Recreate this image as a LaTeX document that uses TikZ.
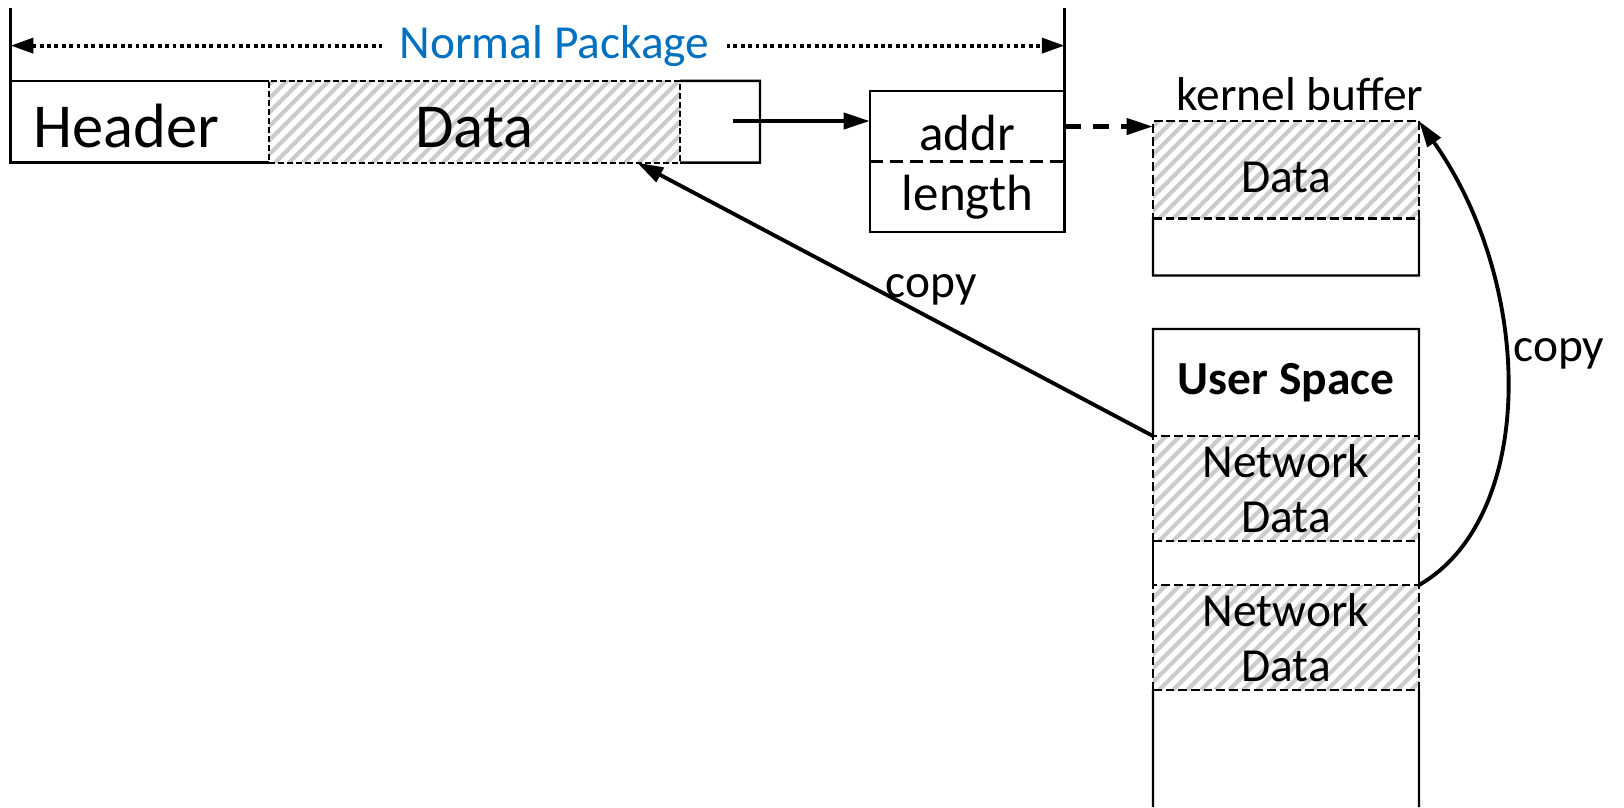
\documentclass[tikz,border=0pt]{standalone}
\usepackage{fontspec}
\setmainfont{Carlito}
\usetikzlibrary{arrows.meta, positioning}
\definecolor{npblue}{HTML}{0070C0}
\definecolor{hatchgray}{HTML}{CCCCCC}
\newcommand{\bigsz}{\fontsize{17.8}{21}\selectfont}
\newcommand{\midsz}{\fontsize{14.5}{17}\selectfont}
\tikzset{
  region/.style={draw, anchor=north west, inner sep=0pt, outer sep=0pt, align=center,
    dash pattern=on 2.5pt off 1.1pt,
    path picture={
      \foreach \k in {0,...,45}
        \draw[solid, line width=1.2pt, hatchgray]
          (path picture bounding box.south west) ++(\k*0.14-1.2,0) -- ++(1.3,1.3);
    }},
  frame/.style={draw, anchor=north west, inner sep=0pt, outer sep=0pt},
  arr/.style={line width=1.1pt, -{Triangle[length=7.5pt, width=4.5pt]}},
  dimarr/.style={line width=1.2pt, dash pattern=on 1.1pt off 1pt,
    {Triangle[length=6.5pt, width=4.2pt]}-{Triangle[length=6.5pt, width=4.2pt]}},
}

\begin{document}
\begin{tikzpicture}[line width=0.7pt, font=\fontsize{13.5}{15.5}\selectfont]
  \useasboundingbox (0,0) rectangle (16.24,-8.07);

  % normal package
  \coordinate (pktNW) at (0.105,-0.808);
  \coordinate (pktSE) at (7.60,-1.626);
  \node[region, line width=0.55pt, dash pattern=on 1.7pt off 0.85pt,
    minimum width=4.11cm, minimum height=0.818cm, font=\bigsz,
    text height=14.5pt, text depth=0pt] (pdata) at (2.69,-0.808) {Data};
  \draw (pdata.north west) -- (pktNW) |- (pdata.south west);
  \draw (pdata.north east) -| (pktSE) -- (pdata.south east);
  \node[font=\bigsz] (hdr) at (1.265,-1.262) {Header};

  % addr / length
  \node[frame, minimum width=1.947cm, minimum height=1.41cm] (desc) at (8.70,-0.91) {};
  \draw[dash pattern=on 3.7pt off 2pt] (desc.west) -- (desc.east);
  \node[font=\midsz] (addr) at (9.674,-1.33) {addr};
  \node[font=\midsz] (len) at (9.674,-1.97) {length};
  \coordinate (pktout) at (7.33,-1.21);
  \draw[arr, line width=1.3pt] (pktout) -- (pktout -| desc.west);

  % width of the package
  \coordinate (dimL) at (0.105,-0.083);
  \coordinate (dimR) at (10.647,-0.083);
  \draw (dimL) -- (pktNW);
  \draw (dimR) -- (desc.north east);
  \coordinate (npL) at (0.105,-0.456);
  \coordinate (npR) at (10.647,-0.456);
  \draw[dimarr] (npL) -- node[pos=0.516, fill=white, text=npblue, inner xsep=5pt] (nplabel) {Normal Package} (npR);

  % kernel buffer
  \node[region, minimum width=2.66cm, minimum height=0.975cm,
    text height=12.7pt, text depth=0pt] (kdata) at (11.53,-1.21) {Data};
  \coordinate (kbot) at (14.19,-2.755);
  \draw (kdata.south west) |- (kbot) -- (kdata.south east);
  \node[above=2.5pt of kdata.north, xshift=0.14cm, inner sep=0pt] (kbuf) {kernel buffer};
  \coordinate (aout) at (10.647,-1.265);
  \draw[arr, line width=1.3pt, dash pattern=on 4.5pt off 3.5pt] (aout) -- (aout -| kdata.west);

  % user space
  \coordinate (utopR) at (14.19,-3.29);
  \coordinate (ubot) at (14.19,-8.07);
  \node[region, minimum width=2.66cm, minimum height=1.05cm] (net1) at (11.53,-4.36) {Network\\Data};
  \node[region, minimum width=2.66cm, minimum height=1.05cm] (net2) at (11.53,-5.85) {Network\\Data};
  \draw (net1.north west) |- (utopR) -- (net1.north east);
  \draw (net1.south west) -- (net2.north west) (net1.south east) -- (net2.north east);
  \draw (net2.south west) -- (net2.south west |- ubot) (net2.south east) -- (ubot);
  \node[font=\fontsize{13.5}{15.5}\selectfont\bfseries] (uspace) at (12.86,-3.825) {User Space};

  % copies
  \coordinate (dtip) at (6.37,-1.626);
  \draw[arr] (net1.north west) -- node[pos=0.43, above] (copyA) {copy} (dtip);
  \draw[arr] (net2.north east) .. controls (15.36,-5.18) and (15.36,-2.87) .. (kdata.north east);
  \node (copyB) at (15.59,-3.54) {copy};
\end{tikzpicture}
\end{document}
